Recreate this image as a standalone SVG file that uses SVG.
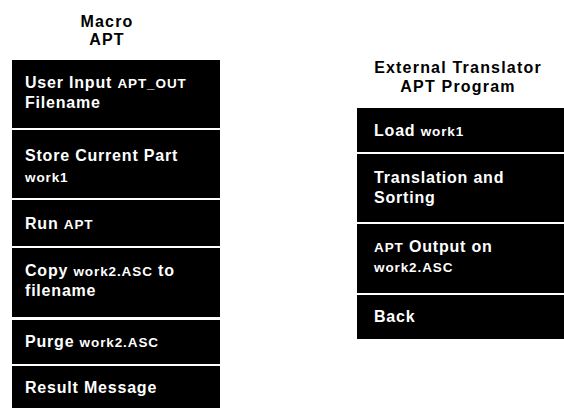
<svg xmlns="http://www.w3.org/2000/svg" width="564" height="408" viewBox="0 0 564 408">
<style>
  text { font-family: "Liberation Sans", Arial, Helvetica, sans-serif; font-weight: bold; }
  .head { font-size: 16px; letter-spacing: 1.2px; fill: #000; text-anchor: middle; }
  .box { fill: #000; }
  .t { font-size: 16px; letter-spacing: 0.8px; fill: #fff; }
  .s { font-size: 13.5px; letter-spacing: 0.9px; }
</style>
<rect width="564" height="408" fill="#fff"/>

<g id="macro-apt-title">
  <text class="head" x="107" y="27">Macro</text>
  <text class="head" x="107" y="45">APT</text>
</g>
<g id="external-translator-title">
  <text class="head" x="458" y="73">External Translator</text>
  <text class="head" x="458" y="92">APT Program</text>
</g>

<g id="user-input">
  <rect class="box" x="12" y="60" width="208" height="68"/>
  <text class="t" x="25" y="88">User Input <tspan class="s">APT_OUT</tspan></text>
  <text class="t" x="25" y="108">Filename</text>
</g>
<g id="store-current-part">
  <rect class="box" x="12" y="130" width="208" height="68"/>
  <text class="t" x="25" y="161">Store Current Part</text>
  <text class="t s" x="25" y="182">work1</text>
</g>
<g id="run-apt">
  <rect class="box" x="12" y="200" width="208" height="46"/>
  <text class="t" x="25" y="229">Run <tspan class="s">APT</tspan></text>
</g>
<g id="copy-work2">
  <rect class="box" x="12" y="248" width="208" height="69"/>
  <text class="t" x="25" y="276">Copy <tspan class="s">work2.ASC</tspan> to</text>
  <text class="t" x="25" y="296">filename</text>
</g>
<g id="purge-work2">
  <rect class="box" x="12" y="320" width="208" height="44"/>
  <text class="t" x="25" y="347">Purge <tspan class="s">work2.ASC</tspan></text>
</g>
<g id="result-message">
  <rect class="box" x="12" y="366" width="208" height="42"/>
  <text class="t" x="25" y="393">Result Message</text>
</g>

<g id="load-work1">
  <rect class="box" x="357" y="108" width="207" height="44"/>
  <text class="t" x="374" y="136">Load <tspan class="s">work1</tspan></text>
</g>
<g id="translation-sorting">
  <rect class="box" x="357" y="154" width="207" height="68"/>
  <text class="t" x="374" y="183">Translation and</text>
  <text class="t" x="374" y="203">Sorting</text>
</g>
<g id="apt-output">
  <rect class="box" x="357" y="224" width="207" height="69"/>
  <text class="t" x="374" y="252"><tspan class="s">APT</tspan> Output on</text>
  <text class="t s" x="374" y="272">work2.ASC</text>
</g>
<g id="back">
  <rect class="box" x="357" y="295" width="207" height="44"/>
  <text class="t" x="374" y="322">Back</text>
</g>
</svg>
